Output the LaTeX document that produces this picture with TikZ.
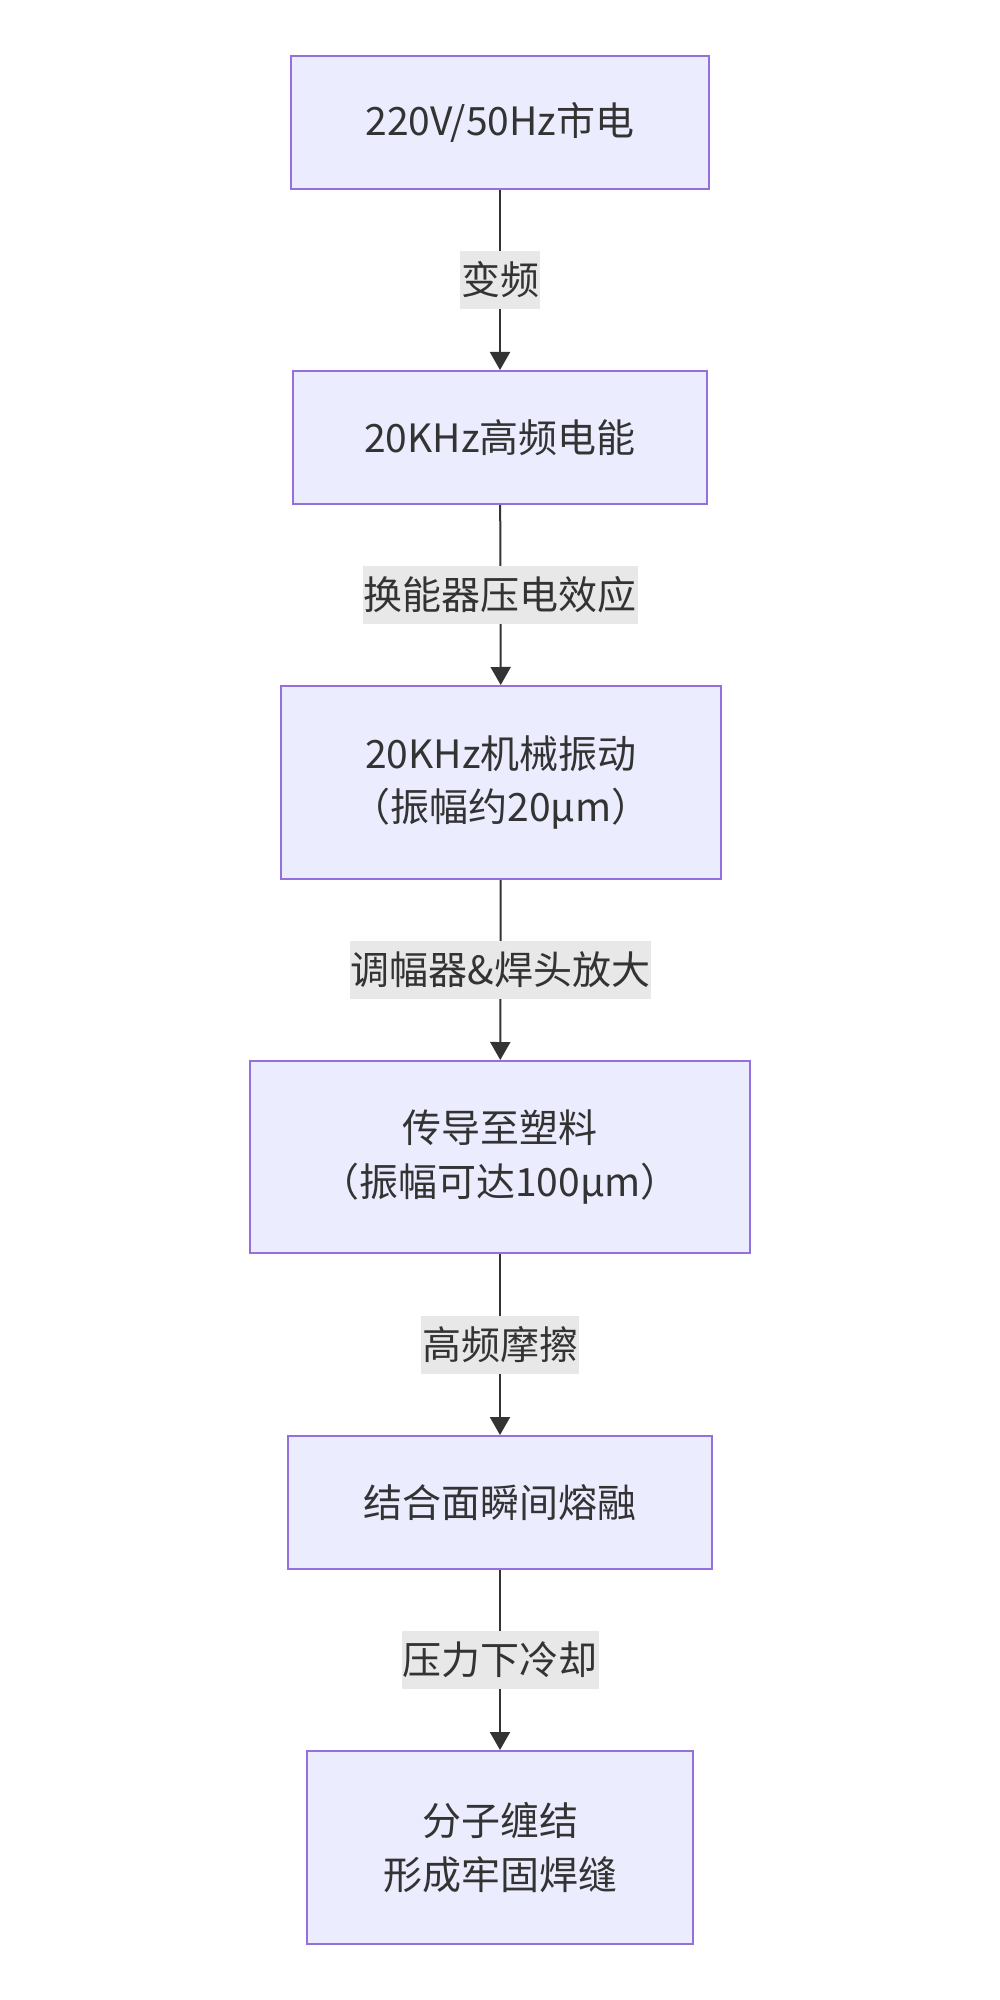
\documentclass[tikz,border=0pt]{standalone}
\usepackage{fontspec}
\setmainfont{Noto Sans CJK SC}
\usetikzlibrary{arrows.meta}
\definecolor{boxfill}{HTML}{ECECFF}
\definecolor{boxline}{HTML}{9370DB}
\definecolor{ink}{HTML}{333333}
\definecolor{lblfill}{HTML}{E8E8E8}
\newcommand{\flowfont}{\fontsize{19.5}{26.8}\selectfont}
\tikzset{
  stage/.style={draw=boxline, fill=boxfill, line width=1pt, text=ink, align=center, font=\flowfont},
  flow/.style={draw=ink, line width=1pt, -{Triangle[width=10pt,length=9pt]}},
  lbl/.style={fill=lblfill, text=ink, inner xsep=0.5pt, inner ysep=0pt, minimum height=29pt, font=\flowfont}
}
\begin{document}
\begin{tikzpicture}[x=0.5pt,y=-0.5pt]
\useasboundingbox[fill=white] (0,0) rectangle (1000,2000);

\node[stage, minimum width=209pt, minimum height=66.5pt] (mains) at (500,122.5) {220V/50Hz市电};
\node[stage, minimum width=207pt, minimum height=66.5pt] (hfpower) at (500,437.5) {20KHz高频电能};
\node[stage, minimum width=220pt, minimum height=96.5pt] (mechvib) at (501,782.5) {20KHz机械振动\\（振幅约20μm）};
\node[stage, minimum width=250pt, minimum height=96pt] (plastic) at (500,1157) {传导至塑料\\（振幅可达100μm）};
\node[stage, minimum width=212pt, minimum height=66.5pt] (melt) at (500,1502.5) {结合面瞬间熔融};
\node[stage, minimum width=193pt, minimum height=96.5pt] (seam) at (500,1847.5) {分子缠结\\形成牢固焊缝};

\draw[flow] (mains) -- node[lbl] {变频} (hfpower);
\draw[flow] (hfpower) -- node[lbl] {换能器压电效应} (mechvib);
\draw[flow] (mechvib) -- node[lbl] {调幅器\&焊头放大} (plastic);
\draw[flow] (plastic) -- node[lbl] {高频摩擦} (melt);
\draw[flow] (melt) -- node[lbl] {压力下冷却} (seam);

\end{tikzpicture}
\end{document}
